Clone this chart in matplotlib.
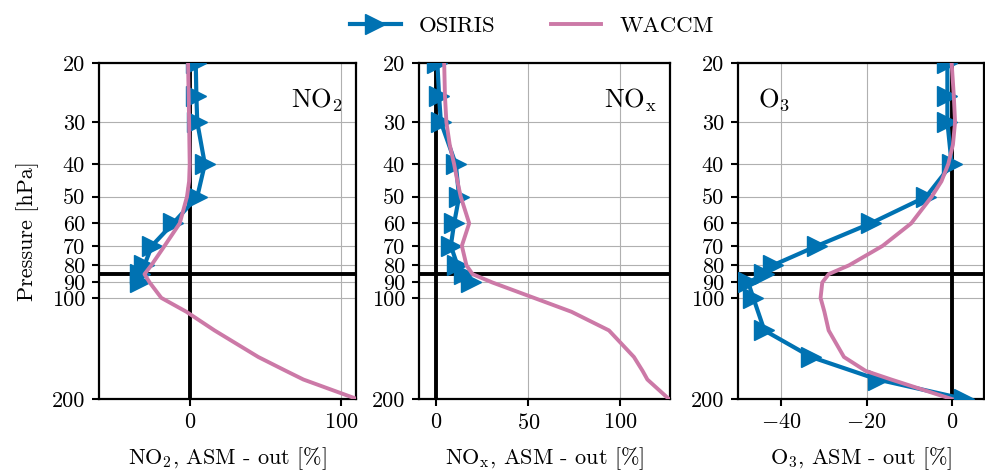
import matplotlib
matplotlib.use("Agg")
import matplotlib.pyplot as plt
from matplotlib.lines import Line2D
from matplotlib.ticker import FixedLocator, NullLocator, FixedFormatter

plt.rcParams['font.family'] = ['cmr10', 'DejaVu Serif']
plt.rcParams['mathtext.fontset'] = 'cm'
plt.rcParams['axes.formatter.use_mathtext'] = True
plt.rcParams['axes.unicode_minus'] = True

# ---------------- data ----------------
osiris_p = [20, 25, 30, 40, 50, 60, 70, 80, 85, 90, 100, 125, 150, 175, 200]
osiris_no2 = [4, 4.4, 5, 10, 5, -11, -25, -30, -33, -33]
osiris_nox = [0.5, 1.4, 2.4, 10.5, 12.3, 9.6, 7.8, 11.4, 15, 18.7]
osiris_o3 = [-1, -1, -1, 0, -6, -19, -31.6, -42, -44, -47.8, -46.6, -44, -33, -17.4, 3]

waccm_p = [20, 25, 30, 35, 40, 45, 50, 60, 70, 80, 85, 90, 100, 110, 125, 150, 165, 175, 200]
waccm_no2 = [-1.1, -0.7, -0.4, -0.2, 0, -0.4, -1.8, -6.6, -16.6, -25.4, -29.9, -26.5,
             -18.8, -2.2, 16.4, 45.4, 63.7, 75.2, 110.6]
waccm_nox = [4.2, 4.6, 5.4, 7.2, 9.6, 11.4, 13.2, 17.8, 13.8, 16.3, 19.6, 30.4,
             53, 73.4, 93.8, 107.4, 112.1, 114.7, 126.4]
waccm_o3 = [0, 0.5, 0.8, 0.3, -0.8, -2.4, -4.7, -9.5, -16.2, -24.1, -28.9, -30.4,
            -30.8, -29.9, -28.9, -25.3, -20.2, -14.2, 0]

p_ref = 85
y_ticks = [20, 30, 40, 50, 60, 70, 80, 90, 100, 200]
y_ticklabels = ['20', '30', '40', '50', '60', '70', '80', '90', '100', '200']

panels = [
    dict(osiris=osiris_no2, waccm=waccm_no2, title=r'NO$_2$', xlabel=r'NO$_2$, ASM - out [%]',
         xlim=(-60, 110), xticks=[0, 100], tpos=(0.95, 0.93), ha='right'),
    dict(osiris=osiris_nox, waccm=waccm_nox, title=r'NO$_\mathrm{x}$', xlabel=r'NO$_\mathrm{x}$, ASM - out [%]',
         xlim=(-9.5, 127), xticks=[0, 50, 100], tpos=(0.95, 0.93), ha='right'),
    dict(osiris=osiris_o3, waccm=waccm_o3, title=r'O$_3$', xlabel=r'O$_3$, ASM - out [%]',
         xlim=(-50.2, 7.6), xticks=[-40, -20, 0], tpos=(0.08, 0.93), ha='left'),
]

c_os = '#0072B2'
c_wa = '#CC79A7'

W, H = 985, 472
fig = plt.figure(figsize=(W / 100, H / 100), dpi=100)
rects = [(99, 356), (419, 670), (738, 984)]
top, bot = 63, 399

for (l, r), pan in zip(rects, panels):
    ax = fig.add_axes([l / W, (H - bot) / H, (r - l) / W, (bot - top) / H])
    ax.set_yscale('log')
    ax.set_ylim(200, 20)
    ax.set_xlim(*pan['xlim'])
    ax.yaxis.set_major_locator(FixedLocator(y_ticks))
    ax.yaxis.set_major_formatter(FixedFormatter(y_ticklabels))
    ax.yaxis.set_minor_locator(NullLocator())
    ax.set_xticks(pan['xticks'])
    ax.grid(True, color='#b0b0b0', lw=0.8)
    ax.set_axisbelow(True)
    ax.axhline(p_ref, color='black', lw=2.8, zorder=1.5)
    ax.axvline(0, color='black', lw=2.8, zorder=1.5)
    ax.plot(pan['osiris'], osiris_p[:len(pan['osiris'])], color=c_os, lw=3,
            marker='>', ms=14, zorder=3, clip_on=True)
    ax.plot(pan['waccm'], waccm_p, color=c_wa, lw=2.8, zorder=4)
    ax.text(pan['tpos'][0], pan['tpos'][1], pan['title'], transform=ax.transAxes,
            ha=pan['ha'], va='top', fontsize=19)
    ax.set_xlabel(pan['xlabel'], fontsize=16, labelpad=9)
    ax.tick_params(labelsize=16, width=1.5, length=5, pad=5)
    for s in ax.spines.values():
        s.set_linewidth(1.6)
    if l == 99:
        ax.set_ylabel('Pressure [hPa]', fontsize=16, labelpad=9)

handles = [Line2D([], [], color=c_os, lw=3, marker='>', ms=14),
           Line2D([], [], color=c_wa, lw=2.8)]
fig.legend(handles, ['OSIRIS', 'WACCM'], loc='upper center', bbox_to_anchor=(0.54, 1.01),
           ncol=2, frameon=False, fontsize=16.5, handlelength=2.2, handletextpad=0.8,
           columnspacing=2.4, numpoints=1)

fig.savefig('out.png', dpi=100)
